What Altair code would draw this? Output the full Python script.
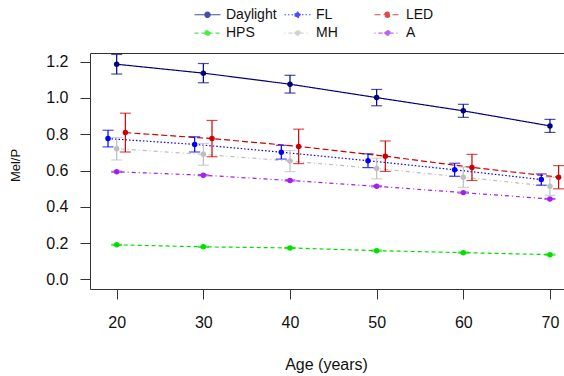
import altair as alt
import pandas as pd

# ---- data ----
ages = [20, 30, 40, 50, 60, 70]
series = ["Daylight", "FL", "LED", "HPS", "MH", "A"]
dodge = [0, -1, 1, 0, 0, 0]

daylight = [1.186, 1.137, 1.076, 1.002, 0.929, 0.846]
daylight_err = [0.054, 0.053, 0.049, 0.045, 0.036, 0.036]
fl = [0.776, 0.744, 0.701, 0.654, 0.604, 0.550]
fl_err = [0.046, 0.042, 0.038, 0.038, 0.036, 0.031]
led = [0.809, 0.776, 0.733, 0.679, 0.617, 0.563]
led_err = [0.107, 0.100, 0.095, 0.084, 0.072, 0.064]
hps = [0.190, 0.179, 0.173, 0.158, 0.147, 0.136]
hps_err = [0.003, 0.003, 0.003, 0.003, 0.003, 0.003]
mh = [0.720, 0.689, 0.652, 0.611, 0.563, 0.513]
mh_err = [0.062, 0.060, 0.058, 0.057, 0.056, 0.050]
a_vals = [0.593, 0.574, 0.545, 0.513, 0.478, 0.443]
a_err = [0.003, 0.003, 0.003, 0.003, 0.003, 0.003]

y_ticks = [0.0, 0.2, 0.4, 0.6, 0.8, 1.0, 1.2]

colors = ["#000080", "#0000FF", "#CD0000", "#00E000", "#BEBEBE", "#A020F0"]
dashes = [[1, 0], [1.5, 2], [6, 3], [4, 3], [1, 3, 4, 3], [1, 3, 4, 3]]

means = [daylight, fl, led, hps, mh, a_vals]
errs = [daylight_err, fl_err, led_err, hps_err, mh_err, a_err]

rows = []
for s, d, m, e in zip(series, dodge, means, errs):
    for age, v, err in zip(ages, m, e):
        rows.append({"series": s, "x": age + d, "mel": v, "lo": v - err, "hi": v + err})
df = pd.DataFrame(rows)

FONT = "Liberation Sans"

xscale = alt.Scale(domain=[16.92, 71.62], nice=False, zero=False)
yscale = alt.Scale(domain=[-0.0535, 1.248], nice=False, zero=False)
cscale = alt.Scale(domain=series, range=colors)
dscale = alt.Scale(domain=series, range=dashes)

leg = alt.Legend(title=None)

x_bottom = alt.X(
    "x:Q", scale=xscale,
    axis=alt.Axis(values=ages, title="Age (years)", tickSize=10, labelPadding=15,
                  labelFontSize=16, titleFontSize=16, titleFontWeight="normal",
                  titleBaseline="middle", titleX=236, titleY=75, titleAnchor="start",
                  titleAlign="center", grid=False, domain=True, domainColor="#333333",
                  tickColor="#333333", labelColor="#111111", titleColor="#111111",
                  labelFont=FONT, titleFont=FONT, orient="bottom"),
)
x_top = alt.X(
    "x:Q", scale=xscale,
    axis=alt.Axis(orient="top", labels=False, ticks=False, title=None, grid=False,
                  domain=True, domainColor="#333333"),
)
x_none = alt.X("x:Q", scale=xscale, axis=None)

y_axis = alt.Y(
    "mel:Q", scale=yscale,
    axis=alt.Axis(values=y_ticks, format=".1f", title="Mel/P", tickSize=10, labelPadding=12,
                  labelFontSize=16, titleFontSize=13, titleFontWeight="normal",
                  titleAngle=270, titleBaseline="middle", titleAlign="center",
                  titleX=-75, titleY=112, grid=False, domain=True, domainColor="#333333",
                  tickColor="#333333", labelColor="#111111", titleColor="#111111",
                  labelFont=FONT, titleFont=FONT, orient="left"),
)
y_none = alt.Y("mel:Q", scale=yscale, axis=None)

color = alt.Color("series:N", scale=cscale, legend=leg)
dash = alt.StrokeDash("series:N", scale=dscale, legend=leg)

base = alt.Chart(df)

lines = base.mark_line(strokeWidth=1.2).encode(x=x_bottom, y=y_axis, color=color, strokeDash=dash)
points = base.mark_circle(size=30, opacity=1).encode(x=x_top, y=y_none, color=color)
bars = base.mark_rule(strokeWidth=1.2).encode(
    x=x_none, y=alt.Y("lo:Q", scale=yscale, axis=None), y2="hi:Q", color=color)
caps_lo = base.mark_tick(orient="horizontal", size=11, thickness=1.2).encode(
    x=x_none, y=alt.Y("lo:Q", scale=yscale, axis=None), color=color)
caps_hi = base.mark_tick(orient="horizontal", size=11, thickness=1.2).encode(
    x=x_none, y=alt.Y("hi:Q", scale=yscale, axis=None), color=color)

# legend symbol: a 26px line with a dot in the middle (layout size 13px)
symbol_path = ("M-2,0H2M-0.4,0A0.4,0.4,0,1,1,0.4,0A0.4,0.4,0,1,1,-0.4,0Z")

chart = (
    alt.layer(lines, bars, caps_lo, caps_hi, points)
    .resolve_axis(x="independent", y="independent")
    .properties(
        width=474, height=236,
        autosize=alt.AutoSizeParams(type="none"),
        padding={"left": 90, "top": 53, "right": 0, "bottom": 87},
        background="white",
    )
    .configure_view(stroke=None)
    .configure_legend(
        orient="none", legendX=110, legendY=-46, columns=3, gridAlign="all",
        symbolType=symbol_path, symbolSize=169, symbolStrokeWidth=1.2,
        labelFontSize=14, labelFont=FONT, labelColor="#111111", labelOffset=11,
        columnPadding=5, rowPadding=3.6, padding=0, direction="horizontal",
    )
)

chart.save("out.html", embed_options={"renderer": "svg", "actions": False})
